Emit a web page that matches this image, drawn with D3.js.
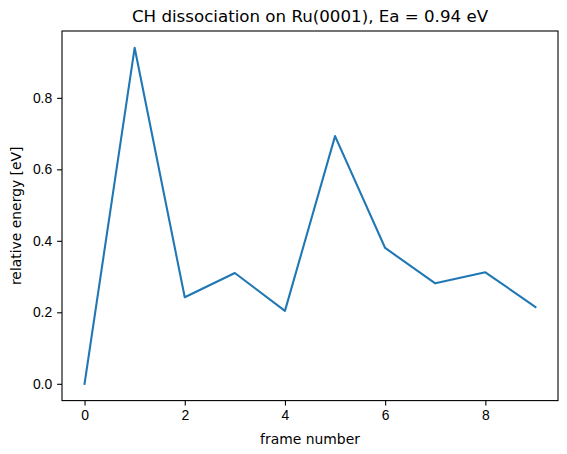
<!DOCTYPE html>
<html>
<head>
<meta charset="utf-8">
<script src="https://cdn.jsdelivr.net/npm/d3@7"></script>
<style>
  body { margin: 0; background: #fff; }
  svg { display: block; font-family: "DejaVu Sans", sans-serif; }
  .axis path, .axis line { stroke: #000; stroke-width: 1.1; }
  .axis text { fill: #000; font-size: 13.9px; }
</style>
</head>
<body>
<svg width="567" height="454"></svg>
<script>
// frame index and relative energy (eV) along the path
var frames = [0, 1, 2, 3, 4, 5, 6, 7, 8, 9];
var energies = [0.0, 0.94, 0.242, 0.310, 0.204, 0.693, 0.380, 0.281, 0.312, 0.215];
var xTicks = [0, 2, 4, 6, 8];
var yTicks = [0.0, 0.2, 0.4, 0.6, 0.8];
var title = "CH dissociation on Ru(0001), Ea = 0.94 eV";

var svg = d3.select("svg"),
margin = {top: 31, right: 9, bottom: 53.4, left: 62},
width = +svg.attr("width") - margin.left - margin.right,
height = +svg.attr("height") - margin.top - margin.bottom,
g = svg.append("g").attr("transform", "translate(" + margin.left + "," + margin.top + ")");

var data = frames.map(function(f, i) { return {f: f, e: energies[i]}; });

// matplotlib-like 5% margins
var xExt = d3.extent(frames), xPad = (xExt[1] - xExt[0]) * 0.05;
var yExt = d3.extent(energies), yPad = (yExt[1] - yExt[0]) * 0.05;

var x = d3.scaleLinear()
.domain([xExt[0] - xPad, xExt[1] + xPad])
.range([0, width]);

var y = d3.scaleLinear()
.domain([yExt[0] - yPad, yExt[1] + yPad])
.range([height, 0]);

var line = d3.line()
.x(function(d) { return x(d.f); })
.y(function(d) { return y(d.e); });

g.append("path")
.datum(data)
.attr("fill", "none")
.attr("stroke", "#1f77b4")
.attr("stroke-width", 2.08)
.attr("stroke-linejoin", "round")
.attr("stroke-linecap", "square")
.attr("d", line);

g.append("g")
.attr("class", "axis")
.attr("transform", "translate(0," + height + ")")
.call(d3.axisBottom(x).tickValues(xTicks).tickFormat(d3.format("d")).tickSizeOuter(0).tickSize(4.9).tickPadding(4.9))
.call(function(a) { a.select(".domain").remove(); });

g.append("g")
.attr("class", "axis")
.call(d3.axisLeft(y).tickValues(yTicks).tickFormat(d3.format(".1f")).tickSizeOuter(0).tickSize(4.9).tickPadding(4.9))
.call(function(a) { a.select(".domain").remove(); });

// frame around the axes
g.append("rect")
.attr("width", width)
.attr("height", height)
.attr("fill", "none")
.attr("stroke", "#000")
.attr("stroke-width", 1.1);

g.append("text")
.attr("x", width / 2)
.attr("y", -8.8)
.attr("text-anchor", "middle")
.attr("font-size", 16.67)
.attr("fill", "#000")
.text(title);

// x-axis label
g.append("text")
.attr("x", width / 2)
.attr("y", height + 43)
.attr("text-anchor", "middle")
.attr("font-size", 13.9)
.attr("fill", "#000")
.text("frame number");

// y-axis label
g.append("text")
.attr("transform", "rotate(-90)")
.attr("x", -height / 2)
.attr("y", -41)
.attr("text-anchor", "middle")
.attr("font-size", 13.9)
.attr("fill", "#000")
.text("relative energy [eV]");
</script>
</body>
</html>
